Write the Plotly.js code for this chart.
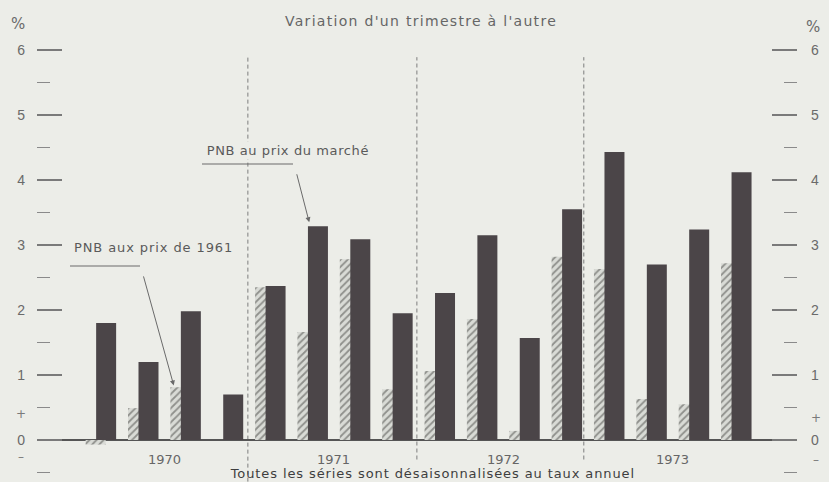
<!DOCTYPE html>
<html>
<head>
<meta charset="utf-8">
<script src="https://cdn.plot.ly/plotly-3.0.1.min.js"></script>
<style>html,body{margin:0;padding:0;background:#ecede8;}#chart{width:829px;height:482px;}</style>
</head>
<body>
<div id="chart"></div>
<script>
// ---- data ----
const quarters = ['1970 T1','1970 T2','1970 T3','1970 T4',
                  '1971 T1','1971 T2','1971 T3','1971 T4',
                  '1972 T1','1972 T2','1972 T3','1972 T4',
                  '1973 T1','1973 T2','1973 T3','1973 T4'];
const years = ['1970','1971','1972','1973'];
// PNB aux prix de 1961 (hatched bars)
const pnbPrix1961 = [-0.07, 0.49, 0.81, 0, 2.35, 1.66, 2.78, 0.78, 1.06, 1.86, 0.14, 2.82, 2.63, 0.63, 0.55, 2.72];
// PNB au prix du marché (dark bars)
const pnbMarche = [1.8, 1.2, 1.98, 0.7, 2.37, 3.29, 3.09, 1.95, 2.26, 3.15, 1.57, 3.55, 4.43, 2.7, 3.24, 4.12];
const yTicks = [0, 1, 2, 3, 4, 5, 6];

// ---- layout helpers ----
const W = 829, H = 482, L = 37, R = 32, T = 40, B = 0;
const pw = W - L - R, ph = H - T - B;
const px = v => (v - L) / pw;
const py = v => (H - B - v) / ph;
const idx = quarters.map((_, i) => i);
const yr = [-0.646, 6.154];
const xr = [-1.508, 16.433];
const barW = 0.472;
const bg = '#ecede8';
const txt = '#5a5a5a';
const font = 'DejaVu Sans, Verdana, sans-serif';

const traces = [
  {
    type: 'bar', name: 'PNB aux prix de 1961', x: idx, y: pnbPrix1961,
    width: barW, offset: -0.36,
    marker: {color: '#d7d9d4', line: {width: 0},
      pattern: {shape: '/', fgcolor: '#8f908c', bgcolor: '#d9dbd6', size: 5, solidity: 0.35}},
    hoverinfo: 'skip', showlegend: false
  },
  {
    type: 'bar', name: 'PNB au prix du marché', x: idx, y: pnbMarche, yaxis: 'y2',
    width: barW, offset: -0.112,
    marker: {color: '#4b4548', line: {width: 0}},
    hoverinfo: 'skip', showlegend: false
  }
];

const axisY = {
  range: yr, tickvals: yTicks, ticks: 'inside', ticklen: 25, tickwidth: 1.5, tickcolor: '#7a7a7a',
  minor: {dtick: 0.5, tick0: 0, ticks: 'inside', ticklen: 13, tickwidth: 1.5, tickcolor: '#8a8a8a'},
  showgrid: false, showline: false, fixedrange: true,
  tickfont: {family: 'Liberation Sans, Arial, sans-serif', size: 14, color: '#6a6a6a'}
};

const boundaries = [3.47, 7.46, 11.40];
const shapes = boundaries.map((b, k) => ({
  type: 'line', xref: 'x', yref: 'y', x0: b, x1: b, y0: k === 0 ? -0.64 : -0.3, y1: 5.89,
  line: {color: '#7d7d7d', width: 1, dash: '4px,3px'}, layer: 'below'
}));
// horizontal leader segments
shapes.push({type: 'line', xref: 'paper', yref: 'paper', x0: px(202), x1: px(293), y0: py(164), y1: py(164),
  line: {color: '#6a6a6a', width: 1.2}});
shapes.push({type: 'line', xref: 'paper', yref: 'paper', x0: px(70), x1: px(140), y0: py(266), y1: py(266),
  line: {color: '#6a6a6a', width: 1.2}});

function lab(text, xp, yp, size, color, extra) {
  return Object.assign({text: text, xref: 'paper', yref: 'paper', x: px(xp), y: py(yp),
    xanchor: 'center', yanchor: 'middle', showarrow: false,
    font: {family: font, size: size, color: color}}, extra || {});
}

const annotations = [
  lab('PNB au prix du marché', 211, 150, 13, txt, {xanchor: 'left', bgcolor: bg, borderpad: 1}),
  lab('PNB aux prix de 1961', 81, 247, 13, txt, {xanchor: 'left'}),
  // arrows pointing at bars
  {text: ' ', x: 5 - 0.112 + 0.03, y: pnbMarche[5] + 0.06, xref: 'x', yref: 'y2', showarrow: true,
   ax: -15, ay: -58, axref: 'pixel', ayref: 'pixel', arrowhead: 2, arrowsize: 1, arrowwidth: 1, arrowcolor: '#6a6a6a', standoff: 0},
  {text: ' ', x: 2 - 0.36 + 0.08, y: pnbPrix1961[2] + 0.03, xref: 'x', yref: 'y', showarrow: true,
   ax: -33, ay: -119, axref: 'pixel', ayref: 'pixel', arrowhead: 2, arrowsize: 1, arrowwidth: 1, arrowcolor: '#6a6a6a', standoff: 0},
  // % units
  lab('%', 18, 24, 15, '#6a6a6a'),
  lab('%', 813, 27, 15, '#6a6a6a'),
  // sign marks
  lab('+', 21, 414, 12, '#7a7a7a'),
  lab('–', 21, 457, 12, '#7a7a7a'),
  lab('+', 816, 418, 12, '#7a7a7a'),
  lab('–', 816, 460, 12, '#7a7a7a'),
  // footnote
  lab('Toutes les séries sont désaisonnalisées au taux annuel', 432, 473, 13, '#3e3e3e')
];
years.forEach((y, k) => annotations.push({
  text: y, xref: 'x', yref: 'paper', x: 4 * k + 1.5, y: py(459), xanchor: 'center', yanchor: 'middle',
  showarrow: false, font: {family: font, size: 13, color: '#666'}
}));
// letter spacing (px) per annotation index, to mimic the spaced typesetting
const spacing = {0: 0.6, 1: 0.9, 10: 0.9};

const layout = {
  width: W, height: H,
  margin: {l: L, r: R, t: T, b: B, pad: 0},
  paper_bgcolor: bg, plot_bgcolor: bg,
  barmode: 'overlay',
  title: {text: "Variation d'un trimestre à l'autre", x: 421 / W, xanchor: 'center', xref: 'container',
          y: 1 - 21 / H, yanchor: 'middle', yref: 'container', font: {family: font, size: 14, color: '#666'}},
  xaxis: {range: xr, showgrid: false, zeroline: false, showticklabels: false, ticks: '', showline: false, fixedrange: true},
  yaxis: Object.assign({}, axisY, {side: 'left', zeroline: true, zerolinecolor: '#555', zerolinewidth: 2, ticklabelstandoff: 11}),
  yaxis2: Object.assign({}, axisY, {side: 'right', overlaying: 'y', zeroline: false, ticklabelstandoff: 13}),
  shapes: shapes,
  annotations: annotations,
  showlegend: false
};

Plotly.newPlot('chart', traces, layout, {displayModeBar: false, staticPlot: true}).then(gd => {
  const t = gd.querySelector('.gtitle');
  if (t) t.style.letterSpacing = '1.3px';
  Object.keys(spacing).forEach(i => {
    const el = gd.querySelector('g.annotation[data-index="' + i + '"] text');
    if (el) el.style.letterSpacing = spacing[i] + 'px';
  });
});
</script>
</body>
</html>
